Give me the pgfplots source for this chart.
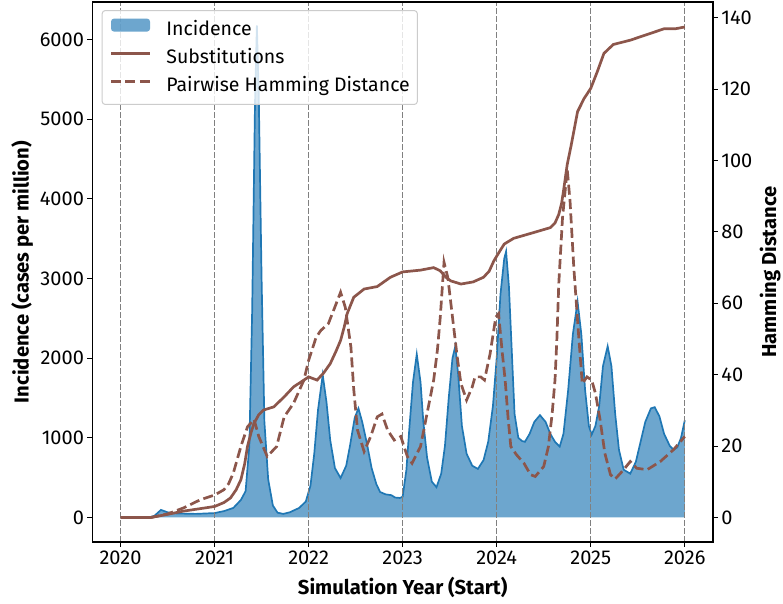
\documentclass[border=0pt]{standalone}
\usepackage{fontspec}
\setmainfont{Fira Sans}
\usepackage{pgfplots}
\usepackage{pgfplotstable}
\pgfplotsset{compat=1.18}
\definecolor{tabblue}{HTML}{1F77B4}
\definecolor{tabbrown}{HTML}{8C564B}
\definecolor{legendedge}{HTML}{CCCCCC}

\pgfplotstableread{
x y
2020.00 0
2020.30 0
2020.36 20
2020.43 95
2020.50 65
2020.60 50
2020.80 45
2021.00 55
2021.10 80
2021.20 120
2021.28 220
2021.33 330
2021.37 900
2021.40 2600
2021.43 5200
2021.45 6180
2021.47 5300
2021.50 3000
2021.53 1200
2021.57 480
2021.62 150
2021.67 60
2021.73 45
2021.80 65
2021.90 120
2021.97 200
2022.02 400
2022.06 800
2022.10 1350
2022.15 1790
2022.19 1450
2022.23 970
2022.28 620
2022.34 495
2022.40 650
2022.44 900
2022.49 1250
2022.53 1370
2022.57 1200
2022.62 930
2022.67 620
2022.72 420
2022.76 320
2022.82 290
2022.88 280
2022.92 250
2022.97 245
2023.00 260
2023.04 600
2023.07 1100
2023.11 1700
2023.15 2050
2023.19 1700
2023.22 1200
2023.26 750
2023.31 450
2023.36 380
2023.41 550
2023.45 900
2023.49 1500
2023.53 2000
2023.56 2150
2023.59 1800
2023.63 1150
2023.68 800
2023.74 650
2023.80 610
2023.86 720
2023.91 950
2023.96 1400
2024.00 2000
2024.04 2800
2024.08 3250
2024.10 3340
2024.13 2900
2024.16 2100
2024.19 1300
2024.23 1000
2024.27 960
2024.30 950
2024.35 1050
2024.40 1200
2024.46 1285
2024.52 1200
2024.57 1050
2024.62 950
2024.67 890
2024.71 1050
2024.76 1600
2024.81 2300
2024.86 2710
2024.90 2300
2024.94 1600
2024.98 1150
2025.01 1040
2025.05 1150
2025.09 1400
2025.13 1900
2025.18 2150
2025.22 1900
2025.26 1300
2025.30 850
2025.35 600
2025.42 550
2025.48 700
2025.53 950
2025.58 1200
2025.64 1370
2025.68 1385
2025.73 1270
2025.78 1050
2025.84 900
2025.88 850
2025.92 880
2025.96 1000
2026.00 1220
}\incidence

\pgfplotstableread{
x y
2020.00 0
2020.32 0
2020.50 0.9
2020.67 1.8
2020.85 2.5
2021.00 3.1
2021.10 4.2
2021.17 5.5
2021.23 7.8
2021.28 10.6
2021.32 15
2021.35 19.9
2021.39 24
2021.42 26.4
2021.47 28.8
2021.52 30.1
2021.63 31.0
2021.74 33.8
2021.84 36.6
2021.95 38.5
2022.00 39.4
2022.09 38.5
2022.16 40.5
2022.23 43.1
2022.29 46.5
2022.34 49.6
2022.38 53.5
2022.41 57.1
2022.48 61.7
2022.59 64.0
2022.73 64.7
2022.80 66.0
2022.87 67.3
2023.00 68.8
2023.19 69.3
2023.33 70.0
2023.40 69.1
2023.46 67.3
2023.51 66.3
2023.62 65.4
2023.75 66.0
2023.86 67.3
2023.92 69.0
2023.97 71.9
2024.03 74.5
2024.08 76.6
2024.18 78.2
2024.39 79.8
2024.57 81.2
2024.62 82.5
2024.66 84.9
2024.69 88
2024.71 91.4
2024.75 98.9
2024.79 104
2024.86 113.7
2024.93 117.4
2025.00 120.2
2025.07 124.9
2025.14 130.0
2025.24 132.5
2025.42 133.7
2025.60 135.3
2025.78 136.9
2025.90 136.9
2026.00 137.4
}\substitutions

\pgfplotstableread{
x y
2020.00 0
2020.32 0
2020.50 1.0
2020.67 2.7
2020.85 5.0
2021.00 6.3
2021.10 7.8
2021.15 9.5
2021.20 12.5
2021.28 19.9
2021.35 25.4
2021.42 27.5
2021.47 22.7
2021.56 17.1
2021.66 19.9
2021.74 28.2
2021.84 32.0
2021.95 38.5
2022.00 44.0
2022.08 50.5
2022.13 52.4
2022.21 54.3
2022.28 59
2022.34 63.1
2022.39 58.9
2022.45 47.7
2022.48 35.9
2022.52 24.5
2022.59 18.5
2022.66 22.7
2022.73 28.2
2022.78 29.0
2022.84 24.5
2022.91 21.7
2022.98 22.7
2023.05 17.1
2023.10 15.2
2023.19 19.9
2023.26 29.2
2023.33 38.5
2023.37 47
2023.40 56.1
2023.44 71.5
2023.48 67.3
2023.53 56.1
2023.58 45.0
2023.62 37.5
2023.68 32.9
2023.74 36.6
2023.77 39.4
2023.83 39.4
2023.87 38.5
2023.93 45.9
2023.99 56.1
2024.02 57.1
2024.06 46
2024.09 38.5
2024.12 28.2
2024.15 19.9
2024.21 17.6
2024.29 15.2
2024.36 12.0
2024.41 11.5
2024.50 14.3
2024.55 19.9
2024.59 29.2
2024.62 38.5
2024.64 50
2024.66 65.4
2024.70 84.0
2024.75 97.5
2024.78 88.6
2024.82 70.0
2024.87 51.5
2024.91 37.5
2024.96 39.4
2025.01 38.5
2025.05 34.8
2025.10 27.3
2025.15 18.0
2025.21 12.0
2025.26 10.8
2025.35 13.4
2025.42 15.7
2025.49 13.8
2025.60 13.4
2025.74 15.7
2025.88 19.0
2026.00 22.7
}\hamming

\pgfplotsset{
  common/.style={
    scale only axis, width=620.7bp, height=540bp,
    at={(92.3bp,62bp)}, anchor=south west,
    xmin=2019.7, xmax=2026.3,
    tick align=outside, major tick length=4.9bp,
    every tick/.style={black, line width=1.1bp},
    axis line style={black, line width=1.1bp},
    tick label style={font=\fontsize{20bp}{24bp}\selectfont},
    label style={font=\fontsize{20.2bp}{24bp}\selectfont\bfseries},
    /pgf/number format/assume math mode=true,
    /pgf/number format/1000 sep={},
  }
}

\begin{document}
\begin{tikzpicture}
\useasboundingbox (0,0) rectangle (783bp,604bp);
\begin{axis}[common,
  ymin=-308, ymax=6473,
  xtick={2020,2021,2022,2023,2024,2025,2026},
  ytick={0,1000,2000,3000,4000,5000,6000},
  xtick pos=bottom, ytick pos=left,
  xmajorgrids,
  major grid style={draw=gray, dash pattern=on 5.5bp off 2.5bp, line width=1.1bp},
  axis on top,
  xlabel={Simulation Year (Start)},
  ylabel={Incidence (cases per million)},
  xlabel style={at={(axis description cs:0.5,-0.084)}, anchor=center},
  ylabel style={at={(axis description cs:-0.113,0.5)}, anchor=center},
]
\addplot[draw=none, fill=tabblue, fill opacity=0.65] table[x=x,y=y] {\incidence} \closedcycle;
\addplot[tabblue, line width=1.7bp] table[x=x,y=y] {\incidence};
\end{axis}
\begin{axis}[common,
  ymin=-6.85, ymax=144.4,
  axis y line*=right, axis x line=none,
  ytick={0,20,40,60,80,100,120,140},
  ylabel={Hamming Distance},
  ylabel style={at={(axis description cs:1.092,0.5)}, anchor=center},
  legend cell align=left,
  legend style={at={(axis description cs:0.0151,0.985)}, anchor=north west,
    fill=white, fill opacity=0.8, draw opacity=1, text opacity=1,
    draw=legendedge, line width=1bp, rounded corners=3bp,
    font=\fontsize{19.5bp}{23bp}\selectfont,
    inner xsep=7.5bp, inner ysep=8bp, row sep=9.8bp, column sep=15bp,
    nodes={inner sep=0bp, text height=14bp, text depth=4.5bp}},
]
\addlegendimage{legend image code/.code={\path[fill=tabblue, fill opacity=0.65, draw=none] (0bp,-1bp) rectangle (39bp,12bp);}}
\addlegendentry{Incidence}
\addplot[tabbrown, line width=2.7bp,
  legend image code/.code={\draw[tabbrown, line width=2.7bp] (0bp,5.5bp) -- (39bp,5.5bp);}]
  table[x=x,y=y] {\substitutions};
\addlegendentry{Substitutions}
\addplot[tabbrown, line width=2.7bp, dash pattern=on 10bp off 4.4bp,
  legend image code/.code={\draw[tabbrown, line width=2.7bp, dash pattern=on 10bp off 4.4bp] (0bp,5.5bp) -- (39bp,5.5bp);}]
  table[x=x,y=y] {\hamming};
\addlegendentry{Pairwise Hamming Distance}
\end{axis}
\end{tikzpicture}
\end{document}
